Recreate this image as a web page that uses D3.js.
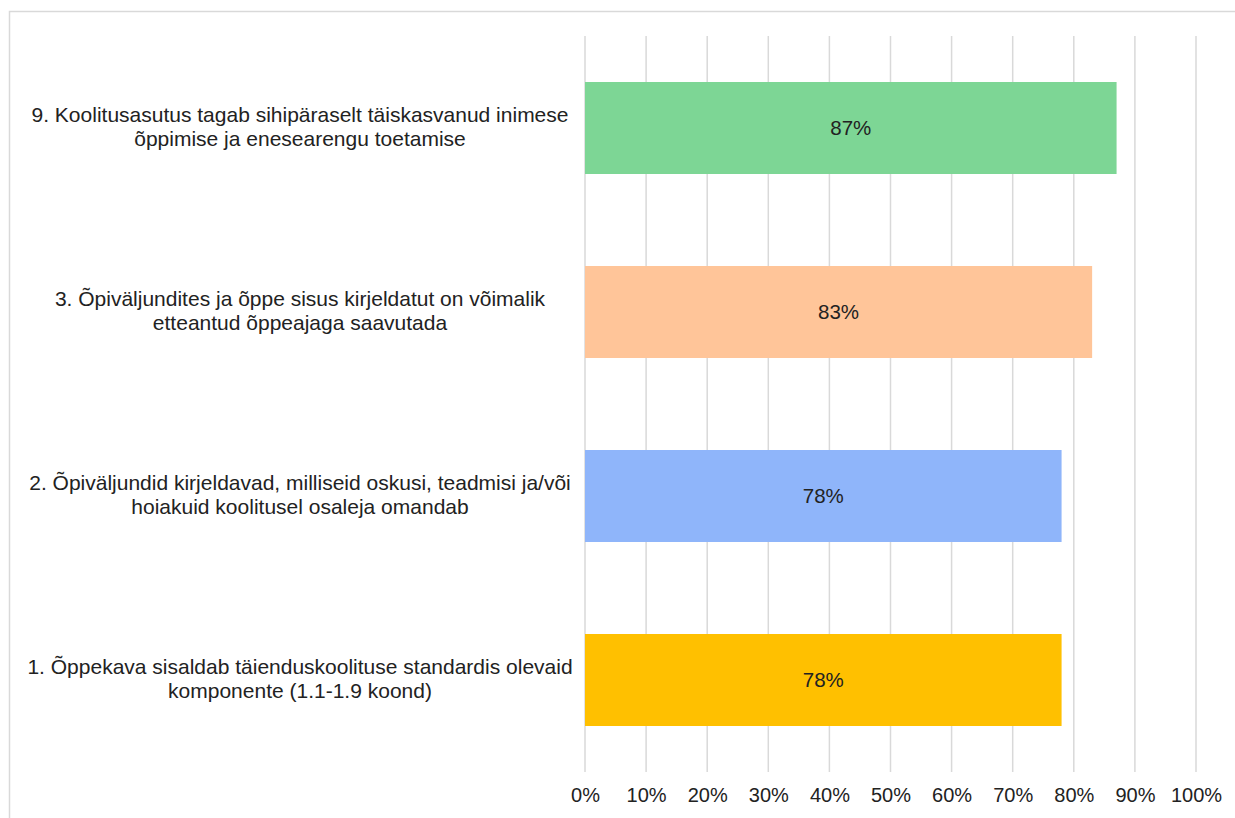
<!DOCTYPE html>
<html>
<head>
<meta charset="utf-8">
<script src="https://cdn.jsdelivr.net/npm/d3@7"></script>
<style>
  html, body { margin: 0; padding: 0; background: #fff; }
  svg { display: block; font-family: "Liberation Sans", Arial, sans-serif; }
</style>
</head>
<body>
<svg id="chart" width="1235" height="818"></svg>
<script>
// Statements, top to bottom
const categories = [
  ["9. Koolitusasutus tagab sihipäraselt täiskasvanud inimese", "õppimise ja enesearengu toetamise"],
  ["3. Õpiväljundites ja õppe sisus kirjeldatut on võimalik", "etteantud õppeajaga saavutada"],
  ["2. Õpiväljundid kirjeldavad, milliseid oskusi, teadmisi ja/või", "hoiakuid koolitusel osaleja omandab"],
  ["1. Õppekava sisaldab täienduskoolituse standardis olevaid", "komponente (1.1-1.9 koond)"]
];
const values = [0.87, 0.83, 0.78, 0.78];
const colors = ["#7dd695", "#ffc599", "#8fb5fa", "#ffc000"];
const ticks = [0, 0.1, 0.2, 0.3, 0.4, 0.5, 0.6, 0.7, 0.8, 0.9, 1.0];

const svg = d3.select("#chart");

// outer frame
svg.append("rect")
  .attr("x", 9.5).attr("y", 11.5)
  .attr("width", 1240).attr("height", 820)
  .attr("fill", "none").attr("stroke", "#d9d9d9").attr("stroke-width", 1.5);

const x = d3.scaleLinear().domain([0, 1]).range([585, 1196]);
const y = d3.scaleBand().domain(d3.range(categories.length)).range([36, 772]).paddingInner(0.5).paddingOuter(0.25);

// vertical gridlines
svg.append("g").selectAll("line").data(ticks).join("line")
  .attr("x1", d => x(d)).attr("x2", d => x(d))
  .attr("y1", 36).attr("y2", 772)
  .attr("stroke", "#d9d9d9").attr("stroke-width", 1.5);

// x axis labels
const xAxis = d3.axisBottom(x).tickValues(ticks).tickFormat(d3.format(".0%")).tickSize(0).tickPadding(0);
const gx = svg.append("g").attr("transform", "translate(0,788)").call(xAxis);
gx.select(".domain").remove();
gx.selectAll("text").attr("font-size", 20).attr("fill", "#222").attr("font-family", "Liberation Sans, Arial, sans-serif");

// bars
svg.append("g").selectAll("rect").data(values).join("rect")
  .attr("x", x(0))
  .attr("y", (d, i) => y(i))
  .attr("width", d => x(d) - x(0))
  .attr("height", y.bandwidth())
  .attr("fill", (d, i) => colors[i]);

// value labels
svg.append("g").selectAll("text").data(values).join("text")
  .attr("x", d => (x(0) + x(d)) / 2)
  .attr("y", (d, i) => y(i) + y.bandwidth() / 2)
  .attr("dy", "0.35em")
  .attr("text-anchor", "middle")
  .attr("font-size", 20.5)
  .attr("fill", "#222")
  .text(d => d3.format(".0%")(d));

// category labels (two lines, centred)
const lab = svg.append("g").selectAll("text").data(categories).join("text")
  .attr("text-anchor", "middle")
  .attr("font-size", 21)
  .attr("fill", "#222")
  .attr("x", 300)
  .attr("y", (d, i) => y(i) + y.bandwidth() / 2);
lab.selectAll("tspan").data(d => d).join("tspan")
  .attr("x", 300)
  .attr("dy", (d, j) => j === 0 ? "-0.3em" : "1.17em")
  .text(d => d);
</script>
</body>
</html>
